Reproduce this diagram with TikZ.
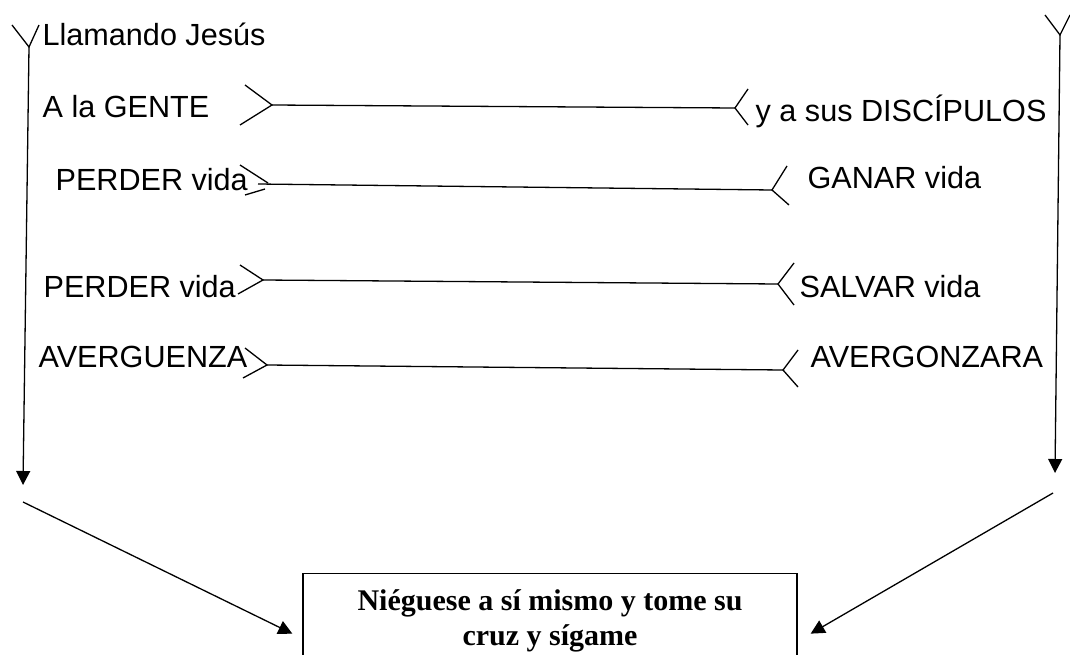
\documentclass[tikz,border=0pt]{standalone}
\usepackage{fontspec}
\setmainfont{Liberation Sans}
\newfontfamily\serifbox{Liberation Serif}
\usetikzlibrary{arrows.meta}

\begin{document}
\begin{tikzpicture}[x=1pt,y=-1pt,line width=1.3pt,
    lbl/.style={anchor=base west,inner sep=0pt,font=\fontsize{30.6}{36}\selectfont},
    msg/.style={anchor=base,inner sep=0pt,font=\serifbox\bfseries\fontsize{30}{35}\selectfont},
    arr/.style={-{Triangle[length=14pt,width=14pt]}}]
  \clip (0,0) rectangle (1070,655);
  % texts
  \node[lbl] (llama) at (42,46) {Llamando Jesús};
  \node[lbl] (gente) at (42,118) {A la GENTE};
  \node[lbl] (disc) at (755,122) {y a sus DISCÍPULOS};
  \node[lbl] (perder1) at (55,190) {PERDER vida};
  \node[lbl] (ganar) at (807,189) {GANAR vida};
  \node[lbl] (perder2) at (43,297) {PERDER vida};
  \node[lbl] (salvar) at (799,297) {SALVAR vida};
  \node[lbl] (averg1) at (38,367) {AVERGUENZA};
  \node[lbl] (averg2) at (810,367) {AVERGONZARA};
  % box
  \node[draw,anchor=north,minimum width=494pt,minimum height=120pt,inner sep=0pt] (box) at (550,573) {};
  \node[msg] (msg1) at (550,610) {Niéguese a sí mismo y tome su};
  \node[msg] (msg2) at (550,645) {cruz y sígame};
  % junctions
  \coordinate (lt) at (29,47);
  \coordinate (lb) at (23,485);
  \coordinate (ld) at (23,502);
  \coordinate (rt) at (1060,35);
  \coordinate (rb) at (1055,473);
  \coordinate (rd) at (1053,493);
  \coordinate (g1) at (272,105);
  \coordinate (d1) at (735,108);
  \coordinate (g2) at (258,184);
  \coordinate (d2) at (772,190);
  \coordinate (g3) at (263,280);
  \coordinate (d3) at (778,284);
  \coordinate (g4) at (267,365);
  \coordinate (d4) at (783,370);
  % side lines
  \draw ([shift={(-17,-22)}]lt) -- (lt) -- ([shift={(10,-22)}]lt);
  \draw ([shift={(-15,-20)}]rt) -- (rt) -- ([shift={(10,-20)}]rt);
  \draw[arr] (lt) -- (lb);
  \draw[arr] (rt) -- (rb);
  \draw[arr] (ld) -- ([xshift=-10pt]box.west);
  \draw[arr] (rd) -- ([xshift=13pt]box.east);
  % forks
  \draw ([shift={(-27,-20)}]g1) -- (g1) -- ([shift={(-32,20)}]g1);
  \draw ([shift={(13,-19)}]d1) -- (d1) -- ([shift={(13,17)}]d1);
  \draw ([shift={(-18,-19)}]g2) -- ([shift={(10,-1)}]g2);
  \draw ([shift={(-13,11)}]g2) -- ([shift={(7,5)}]g2);
  \draw ([shift={(15,-24)}]d2) -- (d2) -- ([shift={(17,15)}]d2);
  \draw ([shift={(-23,-15)}]g3) -- (g3) -- ([shift={(-25,14)}]g3);
  \draw ([shift={(16,-21)}]d3) -- (d3) -- ([shift={(16,21)}]d3);
  \draw ([shift={(-22,-17)}]g4) -- (g4) -- ([shift={(-24,13)}]g4);
  \draw ([shift={(15,-20)}]d4) -- (d4) -- ([shift={(15,17)}]d4);
  \path (g1) edge (d1)
        (g2) edge (d2)
        (g3) edge (d3)
        (g4) edge (d4);
\end{tikzpicture}
\end{document}
